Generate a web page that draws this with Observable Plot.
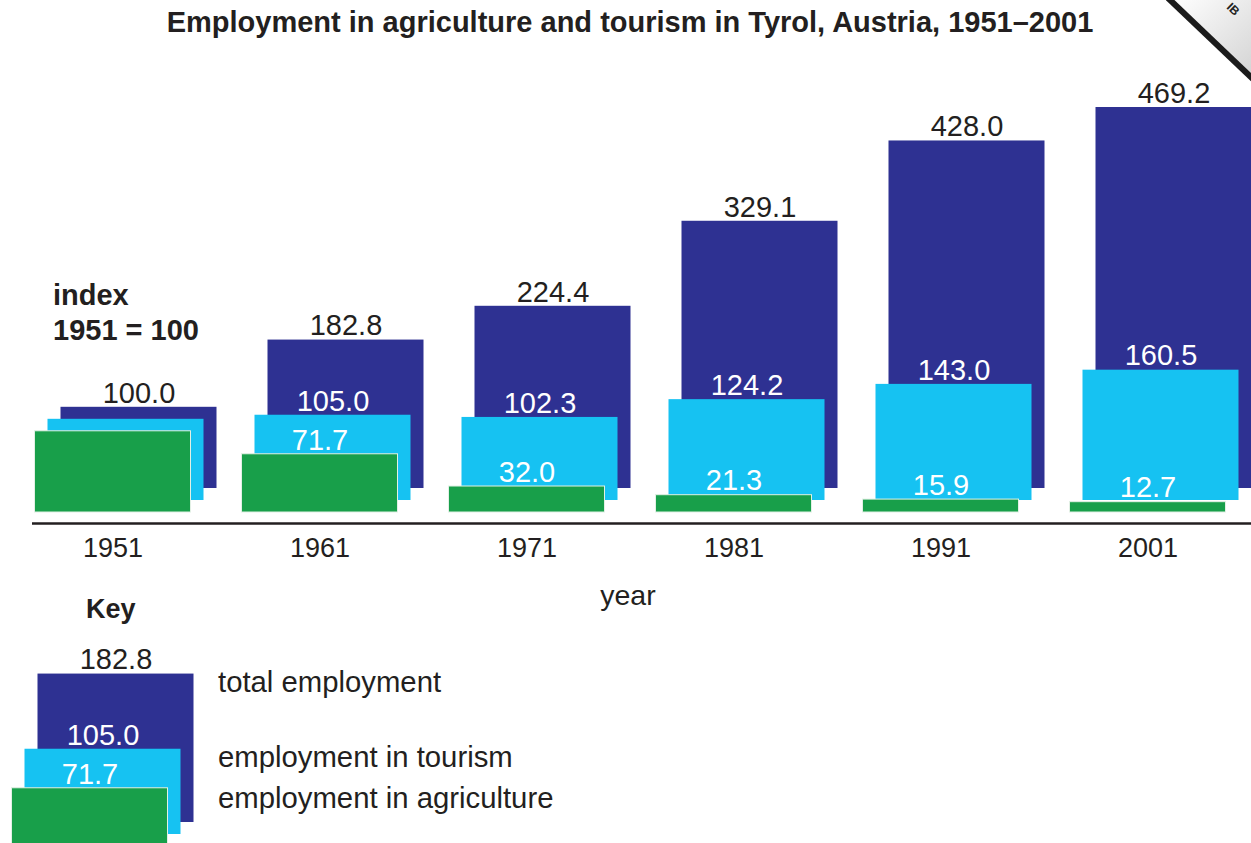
<!DOCTYPE html>
<html>
<head>
<meta charset="utf-8">
<script src="https://cdn.jsdelivr.net/npm/d3@7"></script>
<script src="https://cdn.jsdelivr.net/npm/@observablehq/plot@0.6"></script>
<style>
  html, body { margin: 0; padding: 0; }
  body { width: 1251px; height: 843px; overflow: hidden; position: relative; background: #fff;
         font-family: "Liberation Sans", Arial, Helvetica, sans-serif; color: #231f20; }
  .abs { position: absolute; white-space: nowrap; line-height: 1; }
  .b { font-weight: bold; }
  svg { overflow: visible; }
</style>
</head>
<body>
<div id="main" class="abs" style="left:0;top:0"></div>
<div id="key" class="abs" style="left:0;top:640px"></div>

<div class="abs b" id="title" style="left:0;width:1260px;text-align:center;top:8px;font-size:29px"></div>
<div class="abs b" id="ylab1" style="left:53px;top:281px;font-size:29px"></div>
<div class="abs b" id="ylab2" style="left:53px;top:316px;font-size:29px"></div>
<div class="abs" id="xlab" style="left:528px;width:200px;text-align:center;top:581px;font-size:28.5px"></div>
<div class="abs b" id="keytitle" style="left:86px;top:596px;font-size:27px"></div>
<div class="abs" id="k0" style="left:218px;top:667px;font-size:29.3px"></div>
<div class="abs" id="k1" style="left:218px;top:742px;font-size:29.3px"></div>
<div class="abs" id="k2" style="left:218px;top:783px;font-size:29.3px"></div>

<!-- corner stamp (decorative) -->
<svg class="abs" style="left:1140px;top:0;overflow:hidden" width="111" height="110">
  <defs><linearGradient id="g" x1="0" y1="0" x2="1" y2="1">
    <stop offset="0" stop-color="#ffffff"/><stop offset="1" stop-color="#d4d4d4"/></linearGradient></defs>
  <polygon points="30,0 111,0 111,76" fill="url(#g)"/>
  <line x1="28" y1="-2" x2="113" y2="79" stroke="#1b1b1b" stroke-width="6"/>
  <text id="stamp" x="86" y="8" transform="rotate(44 86 8)" font-size="12" font-weight="bold" fill="#222" font-family="Liberation Sans, Arial"></text>
</svg>

<script>
const titleText = "Employment in agriculture and tourism in Tyrol, Austria, 1951\u20132001";
const yLabelLines = ["index", "1951 = 100"];
const xLabel = "year";
const keyTitle = "Key";
const keyLabels = ["total employment", "employment in tourism", "employment in agriculture"];
const stampText = "IB";

const years = ["1951", "1961", "1971", "1981", "1991", "2001"];
const totalEmployment = [100.0, 182.8, 224.4, 329.1, 428.0, 469.2];
const tourismEmployment = [100.0, 105.0, 102.3, 124.2, 143.0, 160.5];
const agricultureEmployment = [100.0, 71.7, 32.0, 21.3, 15.9, 12.7];
const keyYear = "1961";

const colors = { total: "#2E3192", tourism: "#16C2F2", agriculture: "#189F4A" };
const ink = "#231f20";

document.getElementById("title").textContent = titleText;
document.getElementById("ylab1").textContent = yLabelLines[0];
document.getElementById("ylab2").textContent = yLabelLines[1];
document.getElementById("xlab").textContent = xLabel;
document.getElementById("keytitle").textContent = keyTitle;
document.getElementById("stamp").textContent = stampText;
keyLabels.forEach((t, i) => document.getElementById("k" + i).textContent = t);

const rows = years.map((year, i) => ({
  year,
  total: totalEmployment[i],
  tourism: tourismEmployment[i],
  agriculture: agricultureEmployment[i],
  labelled: i > 0
}));

const fmt = d3.format(".1f");
const inset = 25.5;
const labelSize = 29;

function barMarks(data) {
  const lab = data.filter(d => d.labelled);
  return [
    Plot.barY(data, {x: "year", y: "total", fill: colors.total, dx: 26, dy: -24, insetLeft: inset, insetRight: inset}),
    Plot.barY(data, {x: "year", y: "tourism", fill: colors.tourism, dx: 13, dy: -12, insetLeft: inset, insetRight: inset}),
    Plot.barY(data, {x: "year", y: "agriculture", fill: colors.agriculture, stroke: "#e2f0e5", strokeWidth: 1, insetLeft: inset, insetRight: inset}),
    Plot.text(data, {x: "year", y: "total", text: d => fmt(d.total), dx: 26, dy: -24 - 14, fill: ink, fontSize: labelSize, lineAnchor: "middle"}),
    Plot.text(lab, {x: "year", y: "tourism", text: d => fmt(d.tourism), dx: 13, dy: -12 - 14, fill: "white", fontSize: labelSize, lineAnchor: "middle"}),
    Plot.text(lab, {x: "year", y: "agriculture", text: d => fmt(d.agriculture), dy: -14, fill: "white", fontSize: labelSize, lineAnchor: "middle"})
  ];
}

const pxPerUnit = 0.812;
const styleOpts = {fontFamily: "Liberation Sans, Arial, sans-serif", fontSize: "27px", color: ink, background: "transparent", overflow: "visible"};

const main = Plot.plot({
  width: 1251, height: 620,
  marginLeft: 32, marginRight: 0, marginTop: 0, marginBottom: 108,
  style: styleOpts,
  x: {type: "band", domain: years, range: [8.5, 1250.5], padding: 0},
  y: {domain: [0, 500], range: [512, 512 - 500 * pxPerUnit], axis: null},
  marks: [
    ...barMarks(rows),
    Plot.ruleY([0], {dy: 11, stroke: ink, strokeWidth: 2.5}),
    Plot.axisX({tickSize: 0, tickPadding: 25.5, fontSize: 27, label: null})
  ]
});
document.getElementById("main").appendChild(main);

const keyPlot = Plot.plot({
  width: 260, height: 206,
  marginLeft: 0, marginRight: 0, marginTop: 0, marginBottom: 0,
  style: styleOpts,
  x: {type: "band", domain: [keyYear], range: [-14.5, 192.5], padding: 0, axis: null},
  y: {domain: [0, 250], range: [206, 206 - 250 * pxPerUnit], axis: null},
  marks: barMarks(rows.filter(d => d.year === keyYear))
});
document.getElementById("key").appendChild(keyPlot);
</script>
</body>
</html>
